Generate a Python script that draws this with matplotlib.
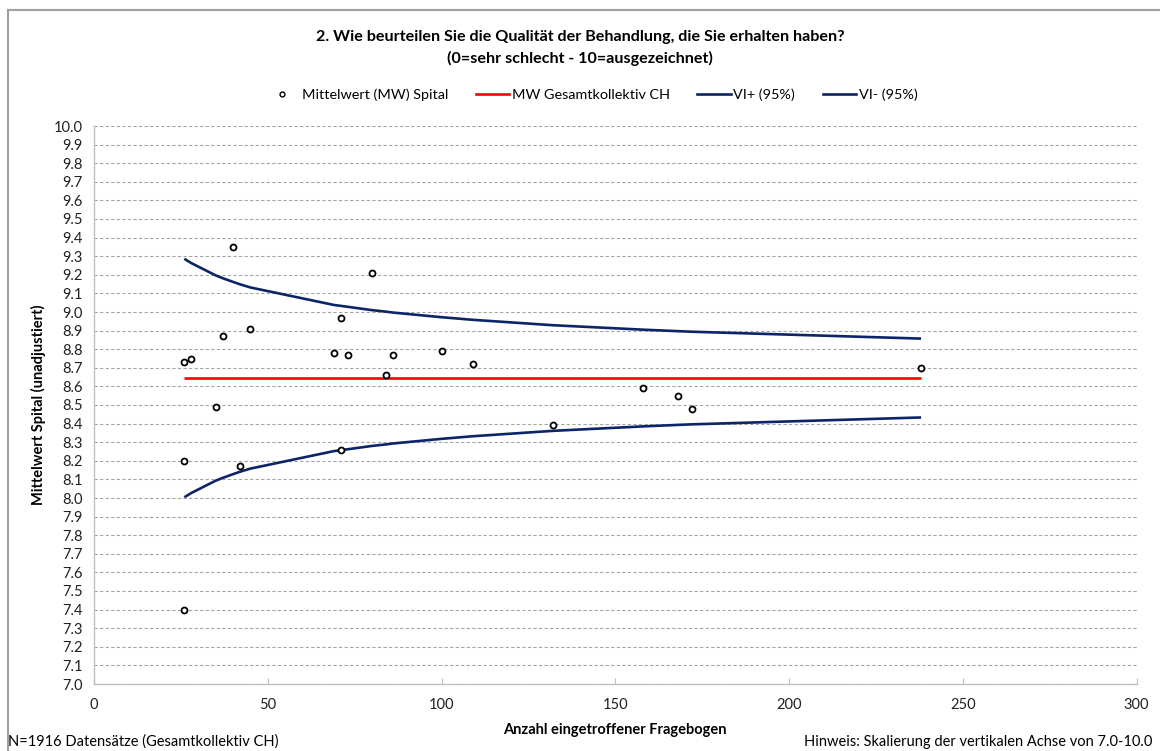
import matplotlib
matplotlib.use("Agg")
import matplotlib.pyplot as plt
from matplotlib.lines import Line2D

plt.rcParams['font.family'] = ['Lato', 'DejaVu Sans']

# Hospital points: number of questionnaires and mean
spital_n = [26, 28, 26, 26, 35, 37, 40, 42, 45, 69, 71, 71, 73, 80, 84, 86, 100, 109, 132, 158, 168, 172, 238]
spital_mw = [8.73, 8.75, 8.20, 7.40, 8.49, 8.87, 9.35, 8.17, 8.91, 8.78, 8.97, 8.26, 8.77, 9.21, 8.66, 8.77,
             8.79, 8.72, 8.39, 8.59, 8.55, 8.48, 8.70]

# Overall mean CH
mw_ch_x = [26, 238]
mw_ch = [8.645, 8.645]

# Confidence interval curves
vi_n = [26, 28, 35, 37, 40, 42, 45, 69, 71, 73, 80, 84, 86, 100, 109, 132, 158, 168, 172, 238]
vi_plus = [9.286, 9.263, 9.197, 9.182, 9.162, 9.149, 9.132, 9.038, 9.033, 9.028, 9.010, 9.002, 8.997,
           8.972, 8.958, 8.929, 8.905, 8.897, 8.894, 8.857]
vi_minus = [8.004, 8.027, 8.093, 8.108, 8.128, 8.141, 8.158, 8.252, 8.257, 8.262, 8.280, 8.288, 8.293,
            8.318, 8.332, 8.361, 8.385, 8.393, 8.396, 8.433]

x_ticks = [0, 50, 100, 150, 200, 250, 300]
y_ticks = [round(7.0 + 0.1 * i, 1) for i in range(31)]

title = "2. Wie beurteilen Sie die Qualität der Behandlung, die Sie erhalten haben?\n(0=sehr schlecht - 10=ausgezeichnet)"

W, H = 1160, 751
fig = plt.figure(figsize=(W / 100, H / 100), dpi=100)
ax = fig.add_axes([94 / W, 1 - 684 / H, (1136.5 - 94) / W, (684 - 126) / H])

navy = '#0B2566'
ax.plot(vi_n, vi_plus, color=navy, lw=1.9, zorder=3, solid_capstyle='butt')
ax.plot(vi_n, vi_minus, color=navy, lw=1.9, zorder=3, solid_capstyle='butt')
ax.plot(mw_ch_x, mw_ch, color='#FF0000', lw=1.9, zorder=3, solid_capstyle='butt')
ax.plot(spital_n, spital_mw, ls='none', marker='o', markersize=4.3, markerfacecolor='white',
        markeredgecolor='black', markeredgewidth=1.3, zorder=4)

ax.set_xlim(0, 300)
ax.set_ylim(7.0, 10.0)
ax.set_xticks(x_ticks)
ax.set_yticks(y_ticks)
ax.set_yticklabels([f"{v:.1f}" for v in y_ticks])
ax.yaxis.grid(True, ls=(0, (3, 2)), color='#A6A6A6', lw=0.8)
ax.set_axisbelow(True)
for s in ['top', 'right']:
    ax.spines[s].set_visible(False)
for s in ['left', 'bottom']:
    ax.spines[s].set_color('#BFBFBF')
    ax.spines[s].set_linewidth(1.0)
ax.tick_params(axis='x', direction='in', length=4, color='#BFBFBF', labelsize=10.5, pad=10,
               labelcolor='#202020')
ax.tick_params(axis='y', length=0, labelsize=10.5, pad=8, labelcolor='#202020')

ax.set_xlabel("Anzahl eingetroffener Fragebogen", fontsize=10.5, fontweight='bold', labelpad=8)
fig.text(38 / W, 1 - 405 / H, "Mittelwert Spital (unadjustiert)", rotation=90, fontsize=10.5,
         fontweight='bold', ha='center', va='center')

fig.text(0.5, 1 - 48 / H, title, ha='center', va='center', fontsize=11.6, fontweight='bold',
         linespacing=1.5)

handles = [
    Line2D([], [], ls='none', marker='o', markersize=3.5, markerfacecolor='white',
           markeredgecolor='black', markeredgewidth=1.0),
    Line2D([], [], color='#FF0000', lw=1.9),
    Line2D([], [], color=navy, lw=1.9),
    Line2D([], [], color=navy, lw=1.9),
]
labels = ["Mittelwert (MW) Spital", "MW Gesamtkollektiv CH", "VI+ (95%)", "VI- (95%)"]
fig.legend(handles, labels, loc='center', bbox_to_anchor=(0.51, 1 - 95 / H), ncol=4, frameon=False,
           fontsize=10.4, handlelength=2.3, handletextpad=0.2, columnspacing=1.9)

fig.text(8 / W, 1 - 742 / H, "N=1916 Datensätze (Gesamtkollektiv CH)", ha='left', va='center', fontsize=10.5)
fig.text(1152 / W, 1 - 742 / H, "Hinweis: Skalierung der vertikalen Achse von 7.0-10.0", ha='right',
         va='center', fontsize=10.5)

# Outer chart frame (left and top edges visible)
fig.add_artist(Line2D([7.5 / W, 7.5 / W], [0, 1 - 9.5 / H], color='#A0A0A0', lw=1.5,
                      transform=fig.transFigure))
fig.add_artist(Line2D([7.5 / W, 1], [1 - 9.5 / H, 1 - 9.5 / H], color='#A0A0A0', lw=1.5,
                      transform=fig.transFigure))

fig.savefig("out.png", dpi=100)
